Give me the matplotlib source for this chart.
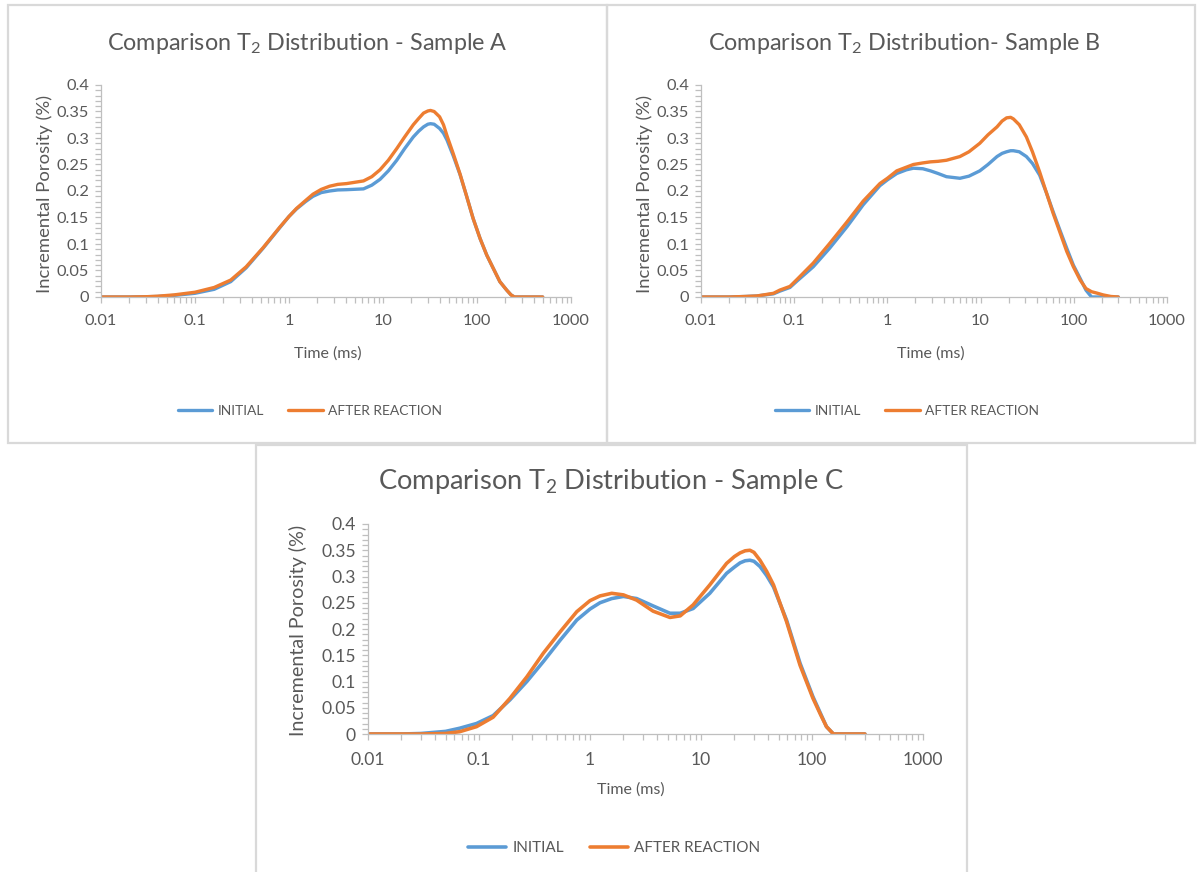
import matplotlib
matplotlib.use("Agg")
import matplotlib.pyplot as plt
from matplotlib.patches import Rectangle
from matplotlib.ticker import LogLocator, MultipleLocator, FixedLocator, FixedFormatter, NullFormatter

plt.rcParams['font.family'] = ['Lato', 'DejaVu Sans']
plt.rcParams['mathtext.fontset'] = 'custom'
plt.rcParams['mathtext.rm'] = 'Lato'
plt.rcParams['mathtext.default'] = 'regular'

# ---------------- data ----------------
A_time = [0.01, 0.02, 0.03, 0.04, 0.06, 0.1, 0.16, 0.24, 0.35, 0.53, 0.8, 1.0, 1.2, 1.5, 1.8, 2.2,
          2.7, 3.3, 4.1, 6.2, 7.6, 9.3, 11.4, 14, 17, 21, 24, 27, 30, 32, 35, 40, 44, 48, 56, 66, 77,
          91, 108, 127, 149, 175, 207, 230, 250, 500]
A_init = [0, 0, 0.0005, 0.001, 0.003, 0.007, 0.0145, 0.029, 0.055, 0.092, 0.131, 0.152, 0.166, 0.18,
          0.19, 0.197, 0.200, 0.202, 0.2025, 0.204, 0.211, 0.222, 0.238, 0.258, 0.28, 0.302, 0.313,
          0.321, 0.326, 0.327, 0.326, 0.318, 0.309, 0.296, 0.266, 0.231, 0.192, 0.148, 0.11, 0.079,
          0.054, 0.029, 0.013, 0.004, 0, 0]
A_after = [0, 0, 0.0005, 0.0015, 0.004, 0.009, 0.018, 0.032, 0.057, 0.093, 0.132, 0.152, 0.167, 0.182,
           0.194, 0.203, 0.209, 0.2125, 0.214, 0.219, 0.227, 0.240, 0.258, 0.280, 0.302, 0.325, 0.337,
           0.347, 0.351, 0.352, 0.350, 0.340, 0.325, 0.304, 0.27, 0.232, 0.192, 0.148, 0.11, 0.079,
           0.054, 0.029, 0.013, 0.004, 0, 0]

B_time = [0.01, 0.02, 0.03, 0.04, 0.06, 0.07, 0.09, 0.107, 0.16, 0.24, 0.37, 0.55, 0.83, 1.0, 1.26,
          1.6, 1.9, 2.4, 2.9, 3.5, 4.3, 6.0, 7.5, 9.8, 12, 15, 17, 19, 21, 22.5, 26, 31, 36, 43, 51,
          60, 71, 84, 99, 117, 135, 155, 180, 206, 250, 300]
B_init = [0, 0, 0.001, 0.002, 0.006, 0.011, 0.018, 0.03, 0.057, 0.092, 0.133, 0.174, 0.21, 0.221,
          0.233, 0.240, 0.243, 0.242, 0.238, 0.233, 0.227, 0.224, 0.228, 0.238, 0.25, 0.265, 0.271,
          0.274, 0.276, 0.276, 0.274, 0.265, 0.252, 0.23, 0.196, 0.161, 0.126, 0.092, 0.06, 0.035,
          0.013, 0, 0, 0, 0, 0]
B_after = [0, 0, 0.001, 0.002, 0.007, 0.013, 0.02, 0.033, 0.064, 0.101, 0.142, 0.181, 0.214, 0.224,
           0.238, 0.245, 0.25, 0.253, 0.255, 0.256, 0.258, 0.265, 0.274, 0.29, 0.306, 0.321, 0.332,
           0.338, 0.339, 0.336, 0.325, 0.302, 0.274, 0.236, 0.196, 0.158, 0.122, 0.086, 0.057, 0.032,
           0.016, 0.01, 0.007, 0.004, 0.001, 0]

C_time = [0.01, 0.02, 0.03, 0.05, 0.067, 0.095, 0.134, 0.19, 0.27, 0.38, 0.54, 0.76, 1.0, 1.23, 1.57,
          2.0, 2.63, 3.7, 5.25, 6.5, 8.5, 12, 17, 20, 22.5, 25, 27.6, 30, 34, 39, 45, 59, 78, 102, 120,
          135, 156, 300]
C_init = [0, 0, 0.001, 0.005, 0.011, 0.02, 0.035, 0.065, 0.1, 0.138, 0.179, 0.217, 0.238, 0.25, 0.258,
          0.262, 0.258, 0.244, 0.23, 0.23, 0.239, 0.268, 0.306, 0.318, 0.326, 0.33, 0.331, 0.329,
          0.319, 0.302, 0.28, 0.217, 0.135, 0.071, 0.038, 0.014, 0, 0]
C_after = [0, 0, 0, 0.001, 0.0044, 0.014, 0.032, 0.068, 0.109, 0.154, 0.195, 0.233, 0.254, 0.263,
           0.268, 0.265, 0.255, 0.234, 0.222, 0.225, 0.246, 0.284, 0.325, 0.338, 0.345, 0.349, 0.35,
           0.346, 0.331, 0.31, 0.284, 0.214, 0.131, 0.068, 0.036, 0.014, 0, 0]

x_ticks = [0.01, 0.1, 1, 10, 100, 1000]
x_labels = ['0.01', '0.1', '1', '10', '100', '1000']
y_ticks = [0, 0.05, 0.1, 0.15, 0.2, 0.25, 0.3, 0.35, 0.4]
y_labels = ['0', '0.05', '0.1', '0.15', '0.2', '0.25', '0.3', '0.35', '0.4']
series_names = ['INITIAL', 'AFTER REACTION']
titles = [r'Comparison T$_2$ Distribution - Sample A',
          r'Comparison T$_2$ Distribution- Sample B',
          r'Comparison T$_2$ Distribution - Sample C']

# ---------------- layout ----------------
W, H = 1197, 872
fig = plt.figure(figsize=(W / 100, H / 100), dpi=100)
fig.patch.set_facecolor('white')

BLUE = '#5B9BD5'
ORANGE = '#ED7D31'
TXT = '#595959'
AX = '#BFBFBF'


def fx(px):
    return px / W


def fy(py):
    return 1 - py / H


def panel(box, plot, title, tpos, xlab_pos, ylab_pos, leg_pos, t, s1, s2, k, kt, kx, kl):
    x0, y0, x1, y1 = box
    fig.add_artist(Rectangle((fx(x0), fy(y1)), fx(x1 - x0), (y1 - y0) / H, transform=fig.transFigure,
                             facecolor='none', edgecolor='#D9D9D9', linewidth=1.6, zorder=0))
    l, r, top, bot = plot
    ax = fig.add_axes([fx(l), fy(bot), fx(r - l), (bot - top) / H])
    ax.plot(t, s1, color=BLUE, lw=2.4 * k, solid_capstyle='round', solid_joinstyle='round',
            label=series_names[0])
    ax.plot(t, s2, color=ORANGE, lw=2.4 * k, solid_capstyle='round', solid_joinstyle='round',
            label=series_names[1])
    ax.set_xscale('log')
    ax.set_xlim(0.01, 1000)
    ax.set_ylim(0, 0.4)
    ax.xaxis.set_major_locator(FixedLocator(x_ticks))
    ax.xaxis.set_major_formatter(FixedFormatter(x_labels))
    ax.xaxis.set_minor_locator(LogLocator(base=10, subs=[2, 3, 4, 5, 6, 7, 8, 9], numticks=20))
    ax.xaxis.set_minor_formatter(NullFormatter())
    ax.yaxis.set_major_locator(FixedLocator(y_ticks))
    ax.yaxis.set_major_formatter(FixedFormatter(y_labels))
    ax.yaxis.set_minor_locator(MultipleLocator(0.01))
    for sp in ['top', 'right']:
        ax.spines[sp].set_visible(False)
    for sp in ['left', 'bottom']:
        ax.spines[sp].set_color(AX)
        ax.spines[sp].set_linewidth(0.9)
    ax.tick_params(which='both', direction='out', color=AX, width=0.9, length=4.5)
    ax.tick_params(axis='x', which='both', labelsize=11.8 * k, labelcolor=TXT, pad=8 * k)
    ax.tick_params(axis='y', which='both', labelsize=11.8 * k, labelcolor=TXT, pad=4 * k)
    ax.patch.set_alpha(0)
    fig.text(fx(tpos[0]), fy(tpos[1]), title, ha='center', va='center', fontsize=16.8 * kt, color=TXT)
    fig.text(fx(xlab_pos[0]), fy(xlab_pos[1]), 'Time (ms)', ha='center', va='center',
             fontsize=11.5 * kx, color=TXT)
    fig.text(fx(ylab_pos[0]), fy(ylab_pos[1]), 'Incremental Porosity (%)', ha='center', va='center',
             rotation=90, fontsize=13.3 * k, color=TXT)
    leg = ax.legend(loc='center', bbox_to_anchor=(fx(leg_pos[0]), fy(leg_pos[1])),
                    bbox_transform=fig.transFigure, ncol=2, frameon=False, fontsize=10 * kl,
                    handlelength=2.5, handletextpad=0.4, columnspacing=1.7)
    for txt in leg.get_texts():
        txt.set_color(TXT)
    return ax


panel((8, 5, 607, 443), (101, 571, 85, 297), titles[0], (307, 43), (328, 354), (45, 194), (310, 411),
      A_time, A_init, A_after, 1.0, 1.0, 1.0, 1.0)
panel((607, 5, 1195, 443), (701, 1167, 85, 297), titles[1], (904, 43), (931, 354), (645, 194),
      (907, 411), B_time, B_init, B_after, 1.0, 1.0, 1.0, 1.0)
panel((256, 445, 967, 880), (368, 923, 524, 734), titles[2], (611, 481), (631, 790), (298, 630),
      (614, 848), C_time, C_init, C_after, 1.07, 1.17, 1.0, 1.1)

fig.savefig('out.png', dpi=100, facecolor='white')
